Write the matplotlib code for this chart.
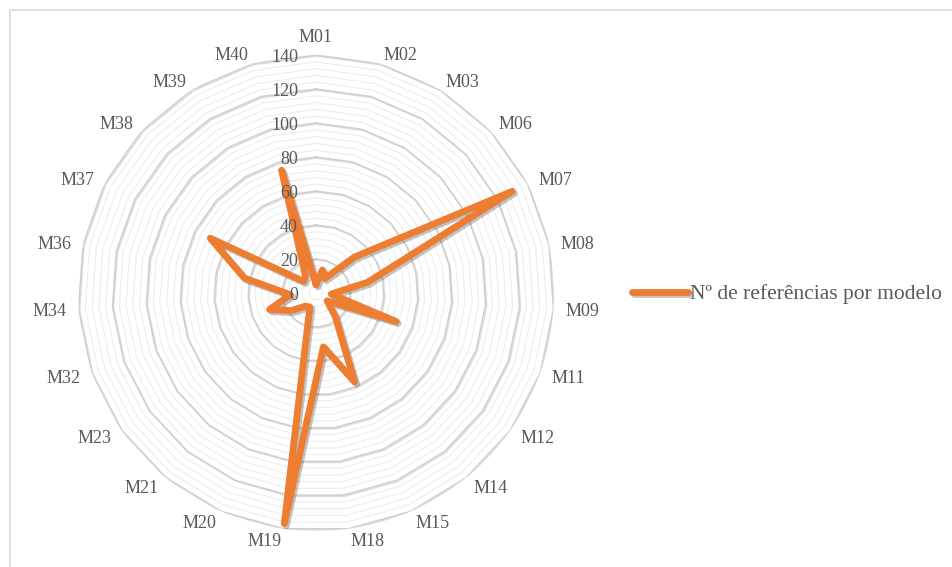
import numpy as np
import matplotlib
matplotlib.use("Agg")
import matplotlib.pyplot as plt
import matplotlib.patheffects as pe
from matplotlib.patches import Rectangle

# data
models = ["M01", "M02", "M03", "M06", "M07", "M08", "M09", "M11", "M12", "M14",
          "M15", "M18", "M19", "M20", "M21", "M23", "M32", "M34", "M36", "M37",
          "M38", "M39", "M40"]
refs = [5, 14, 10, 31, 130, 31, 9, 50, 8, 18,
        57, 32, 137, 9, 10, 18, 29, 15, 43, 70,
        10, 12, 75]
r_ticks = [0, 20, 40, 60, 80, 100, 120, 140]
series_name = "Nº de referências por modelo"

plt.rcParams['font.family'] = ['Liberation Serif', 'DejaVu Serif']
txt_color = '#595959'
orange = '#ED7D31'

W, H = 952, 567
fig = plt.figure(figsize=(W / 100, H / 100), dpi=100)

# chart area border
fig.patches.append(Rectangle((10 / W, -0.02), 1.0, 1 - 10 / H + 0.02,
                             transform=fig.transFigure, fill=False,
                             edgecolor='#D9D9D9', lw=1.2))

cx, cy, R = 316, 293, 238
ax = fig.add_axes([(cx - R) / W, (H - cy - R) / H, 2 * R / W, 2 * R / H], polar=True)
ax.set_theta_zero_location('N')
ax.set_theta_direction(-1)
ax.set_ylim(0, 140)
ax.grid(False)
ax.set_xticks([])
ax.set_yticks([])
ax.spines['polar'].set_visible(False)
ax.patch.set_alpha(0)

n = len(models)
angles = np.linspace(0, 2 * np.pi, n, endpoint=False)
ang_closed = np.append(angles, angles[0])

# polygon gridlines (minor every 4, major every 20)
for r in range(4, 141, 4):
    if r % 20 == 0:
        ax.plot(ang_closed, [r] * (n + 1), color='#CFCFCF', lw=1.1, zorder=2,
                path_effects=[pe.SimpleLineShadow(offset=(0.8, -0.8), shadow_color='#BBBBBB', alpha=0.5),
                              pe.Normal()])
    else:
        ax.plot(ang_closed, [r] * (n + 1), color='#EDEDED', lw=0.8, zorder=1)

# series
vals = refs + refs[:1]
line, = ax.plot(ang_closed, vals, color=orange, lw=4.9, solid_joinstyle='round',
                solid_capstyle='round', zorder=5, label=series_name,
                path_effects=[pe.SimpleLineShadow(offset=(1.5, -1.5), shadow_color='#555555', alpha=0.35),
                              pe.Normal()])

# category labels, placed Excel-style just outside the outer ring
for a, m in zip(angles, models):
    s, c = np.sin(a), np.cos(a)
    if abs(s) < 0.05:
        ha, va = 'center', ('bottom' if c > 0 else 'top')
    else:
        ha, va = ('left' if s > 0 else 'right'), 'center'
    ax.annotate(m, xy=(a, 143), xytext=(7 * s, 6 * c - 2), textcoords='offset pixels',
                ha=ha, va=va, fontsize=13, color=txt_color, annotation_clip=False)

# radial value labels
for t in r_ticks:
    ax.annotate(str(t), xy=(0, t), xytext=(-18, -2), textcoords='offset pixels',
                ha='right', va='center', fontsize=13, color=txt_color, zorder=6)

fig.legend(handles=[line], labels=[series_name], loc='center left',
           bbox_to_anchor=(632 / W, 1 - 294 / H), frameon=False, fontsize=15.5,
           handlelength=2.6, handletextpad=0.08, borderpad=0, borderaxespad=0,
           labelcolor=txt_color)

fig.savefig('out.png', dpi=100)
